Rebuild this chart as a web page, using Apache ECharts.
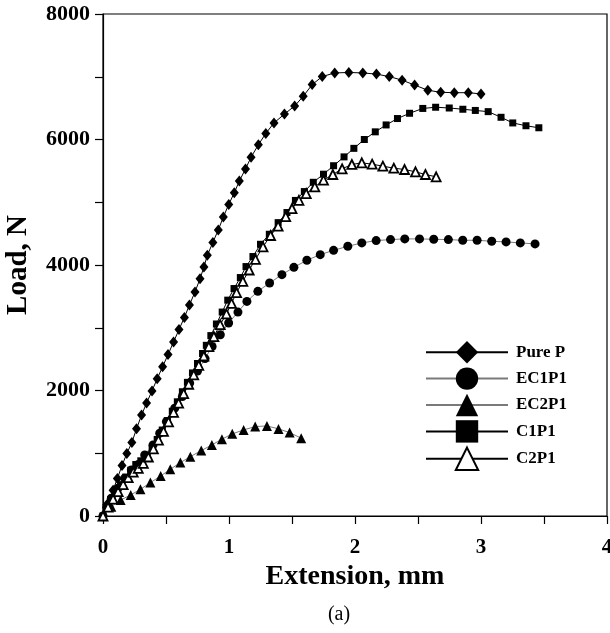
<!DOCTYPE html>
<html><head><meta charset="utf-8">
<script src="https://cdn.jsdelivr.net/npm/echarts@6/dist/echarts.min.js"></script>
<style>html,body{margin:0;padding:0;background:#fff}#c{width:610px;height:633px}</style>
</head><body><div id="c"></div>
<script>
const seriesNames = ['Pure P', 'EC1P1', 'EC2P1', 'C1P1', 'C2P1'];

const pureX = [0,0.03,0.08,0.114,0.151,0.189,0.229,0.266,0.306,0.346,0.389,0.43,0.473,0.516,0.56,0.603,0.646,0.686,0.73,0.77,0.801,0.828,0.872,0.915,0.955,0.998,1.042,1.082,1.131,1.175,1.233,1.292,1.357,1.44,1.521,1.589,1.66,1.74,1.839,1.951,2.062,2.17,2.272,2.374,2.473,2.578,2.68,2.788,2.899,3.0];
const pureY = [0,180,412,598,804,997,1170,1389,1608,1801,1994,2186,2379,2572,2772,2971,3164,3363,3569,3781,3968,4154,4360,4559,4765,4965,5151,5338,5531,5717,5916,6096,6264,6405,6534,6688,6875,7003,7061,7068,7061,7042,7003,6945,6868,6785,6752,6746,6746,6727];

const ec1X = [0,0.03,0.066,0.119,0.172,0.225,0.28,0.331,0.397,0.45,0.503,0.569,0.63,0.688,0.75,0.81,0.866,0.931,0.997,1.071,1.142,1.229,1.322,1.42,1.515,1.618,1.724,1.83,1.943,2.054,2.168,2.282,2.395,2.512,2.625,2.741,2.855,2.969,3.085,3.199,3.312,3.429];
const ec1Y = [0,140,282,442,601,734,820,974,1133,1320,1505,1719,1904,2118,2310,2508,2702,2889,3075,3250,3420,3580,3713,3846,3963,4075,4165,4234,4298,4352,4389,4405,4416,4416,4410,4405,4394,4394,4378,4368,4352,4336];

const ec2X = [0,0.066,0.14,0.22,0.297,0.376,0.458,0.534,0.614,0.693,0.78,0.864,0.944,1.026,1.116,1.208,1.301,1.393,1.481,1.573];
const ec2Y = [0,149,255,335,425,532,638,745,851,946,1042,1133,1224,1309,1372,1425,1436,1388,1330,1240];

const c1X = [0,0.03,0.06,0.1,0.14,0.18,0.22,0.26,0.3,0.35,0.39,0.43,0.47,0.51,0.55,0.59,0.63,0.67,0.71,0.75,0.79,0.82,0.856,0.9,0.946,0.99,1.04,1.09,1.135,1.19,1.25,1.32,1.39,1.46,1.527,1.598,1.669,1.75,1.83,1.913,1.991,2.074,2.161,2.247,2.337,2.433,2.538,2.64,2.748,2.856,2.955,3.057,3.159,3.252,3.357,3.459];
const c1Y = [0,130,260,380,500,620,730,820,880,960,1080,1220,1370,1520,1670,1820,1980,2130,2280,2430,2590,2720,2875,3060,3250,3440,3625,3800,3975,4135,4330,4490,4675,4836,5029,5170,5318,5447,5582,5723,5859,6000,6122,6232,6334,6418,6495,6514,6502,6482,6463,6444,6354,6264,6219,6187];

const c2X = [0,0.04,0.08,0.12,0.16,0.2,0.24,0.28,0.32,0.36,0.4,0.44,0.48,0.52,0.56,0.6,0.64,0.68,0.72,0.76,0.8,0.84,0.88,0.93,0.98,1.02,1.06,1.11,1.16,1.21,1.27,1.33,1.39,1.45,1.5,1.555,1.613,1.681,1.75,1.824,1.898,1.975,2.054,2.136,2.221,2.308,2.393,2.48,2.559,2.644];
const c2Y = [0,140,270,390,500,610,700,760,840,940,1070,1210,1350,1500,1650,1800,1950,2100,2250,2400,2550,2700,2860,3050,3220,3390,3560,3740,3920,4090,4290,4470,4620,4770,4900,5030,5139,5245,5352,5442,5533,5602,5628,5607,5575,5543,5522,5485,5442,5405];

const xMin = 0, xMax = 4, xStep = 0.5;
const yMin = 0, yMax = 8000, yStep = 1000;
const xLabelled = [0, 1, 2, 3, 4];
const yLabelled = [0, 2000, 4000, 6000, 8000];

function zip(a, b) { return a.map((v, i) => [v, b[i]]); }
const F = '"Liberation Serif", "Times New Roman", serif';

const chart = echarts.init(document.getElementById('c'), null, {renderer: 'canvas'});

function mkSeries(name, xs, ys, symbol, size, fill, lineColor, border) {
  return {
    name: name, type: 'line', data: zip(xs, ys),
    symbol: symbol, symbolSize: size, showSymbol: true,
    lineStyle: {color: lineColor, width: 1},
    itemStyle: {color: fill, borderColor: '#000', borderWidth: border ? 1.8 : 0},
    emphasis: {disabled: true}, animation: false, z: 2
  };
}

chart.setOption({
  animation: false,
  backgroundColor: '#fff',
  grid: {left: 103, right: 3, top: 14, bottom: 117, show: true, borderColor: '#000', borderWidth: 1.2, containLabel: false, outerBoundsMode: 'none'},
  xAxis: {
    type: 'value', min: xMin, max: xMax, interval: xStep,
    name: 'Extension, mm', nameLocation: 'middle', nameGap: 42,
    nameTextStyle: {fontFamily: F, fontWeight: 'bold', fontSize: 28, color: '#000'},
    axisLine: {show: true, onZero: false, lineStyle: {color: '#000', width: 1.2}},
    axisTick: {show: true, inside: false, length: 8, lineStyle: {color: '#000', width: 1.2}},
    axisLabel: {margin: 21, fontFamily: F, fontWeight: 'bold', fontSize: 21, color: '#000', showMinLabel: true, showMaxLabel: true,
      formatter: v => xLabelled.indexOf(v) >= 0 ? String(v) : ''},
    splitLine: {show: false}
  },
  yAxis: {
    type: 'value', min: yMin, max: yMax, interval: yStep,
    name: 'Load, N', nameLocation: 'middle', nameGap: 70,
    nameTextStyle: {fontFamily: F, fontWeight: 'bold', fontSize: 29, color: '#000'},
    axisLine: {show: true, onZero: false, lineStyle: {color: '#000', width: 1.2}},
    axisTick: {show: true, inside: false, length: 8, lineStyle: {color: '#000', width: 1.2}},
    axisLabel: {margin: 13, fontFamily: F, fontWeight: 'bold', fontSize: 22, color: '#000', showMinLabel: true, showMaxLabel: true,
      formatter: v => yLabelled.indexOf(v) >= 0 ? String(v) : ''},
    splitLine: {show: false}
  },
  legend: {
    orient: 'vertical', left: 420, top: 336,
    itemWidth: 82, itemHeight: 28, itemGap: 4,
    textStyle: {fontFamily: F, fontWeight: 'bold', fontSize: 17, color: '#000', padding: [0, 0, 0, 3]},
    data: seriesNames, selectedMode: false
  },
  graphic: [{type: 'text', x: 339, y: 615, style: {text: '(a)', fontFamily: F, fontSize: 20, fill: '#000', align: 'center', verticalAlign: 'middle'}}],
  series: [
    mkSeries(seriesNames[0], pureX, pureY, 'diamond', [9, 11], '#000', '#000', false),
    mkSeries(seriesNames[1], ec1X, ec1Y, 'circle', 9, '#000', '#7a7a7a', false),
    mkSeries(seriesNames[2], ec2X, ec2Y, 'triangle', 10, '#000', '#7a7a7a', false),
    mkSeries(seriesNames[3], c1X, c1Y, 'rect', 7, '#000', '#000', false),
    mkSeries(seriesNames[4], c2X, c2Y, 'triangle', 9, '#fff', '#000', true)
  ]
});
</script></body></html>
